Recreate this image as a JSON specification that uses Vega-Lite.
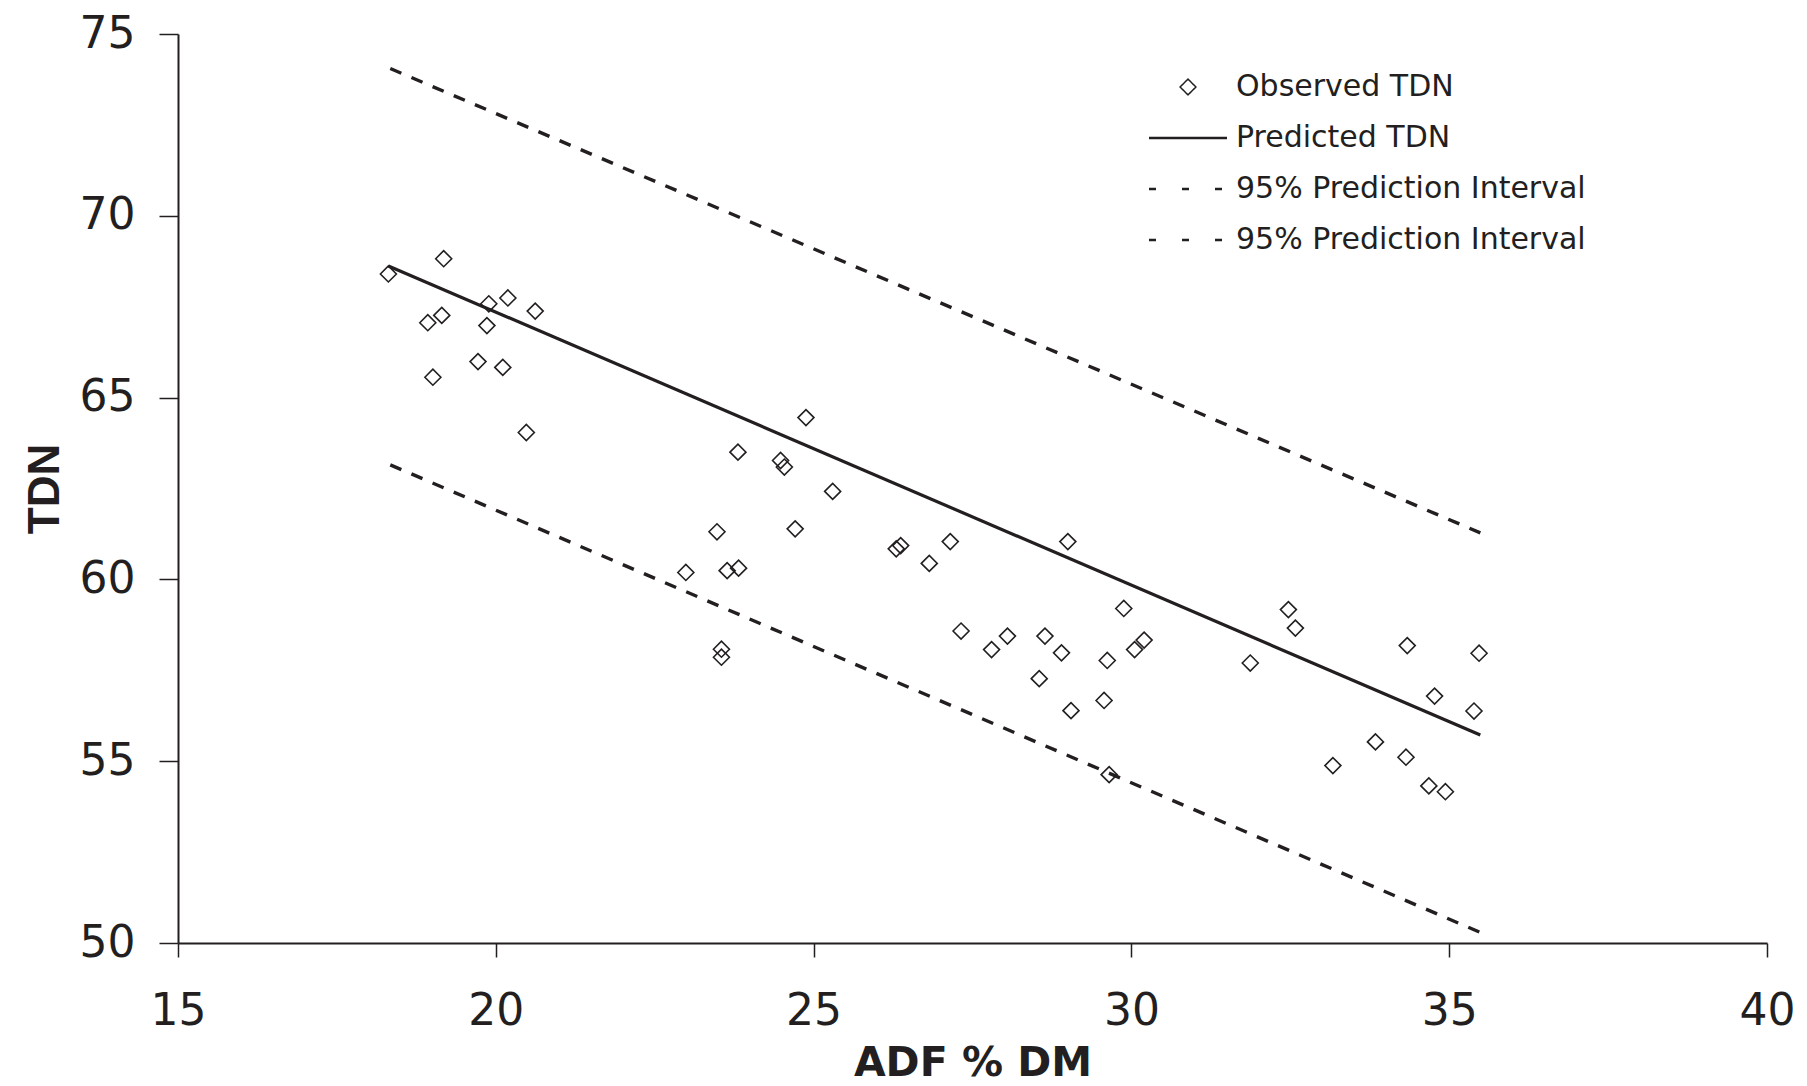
{
  "$schema": "https://vega.github.io/schema/vega-lite/v6.json",
  "width": 1589,
  "height": 909,
  "autosize": "none",
  "padding": {"left": 178, "top": 34, "right": 40, "bottom": 143},
  "background": "white",
  "config": {
    "view": {"stroke": null},
    "font": "DejaVu Sans",
    "axis": {"grid": false, "domainColor": "#231f20", "tickColor": "#231f20", "labelColor": "#231f20", "titleColor": "#231f20", "labelFont": "DejaVu Sans", "labelFlush": false}
  },
  "datasets": {
    "obs": [
      {"adf": 18.31, "tdn": 68.40}, {"adf": 19.18, "tdn": 68.82}, {"adf": 18.93, "tdn": 67.06},
      {"adf": 19.15, "tdn": 67.26}, {"adf": 19.01, "tdn": 65.56}, {"adf": 19.89, "tdn": 67.58},
      {"adf": 19.86, "tdn": 66.98}, {"adf": 20.19, "tdn": 67.74}, {"adf": 19.72, "tdn": 65.99},
      {"adf": 20.11, "tdn": 65.83}, {"adf": 20.62, "tdn": 67.38}, {"adf": 20.48, "tdn": 64.04},
      {"adf": 24.88, "tdn": 64.45}, {"adf": 23.81, "tdn": 63.50}, {"adf": 24.48, "tdn": 63.27},
      {"adf": 24.54, "tdn": 63.09}, {"adf": 25.30, "tdn": 62.42}, {"adf": 23.48, "tdn": 61.31},
      {"adf": 24.71, "tdn": 61.39}, {"adf": 22.99, "tdn": 60.19}, {"adf": 23.64, "tdn": 60.24},
      {"adf": 23.82, "tdn": 60.31}, {"adf": 23.55, "tdn": 58.08}, {"adf": 23.55, "tdn": 57.86},
      {"adf": 26.30, "tdn": 60.84}, {"adf": 26.37, "tdn": 60.93}, {"adf": 27.15, "tdn": 61.04},
      {"adf": 26.82, "tdn": 60.44}, {"adf": 29.00, "tdn": 61.04}, {"adf": 27.32, "tdn": 58.58},
      {"adf": 28.05, "tdn": 58.44}, {"adf": 27.80, "tdn": 58.07}, {"adf": 28.64, "tdn": 58.44},
      {"adf": 28.90, "tdn": 57.98}, {"adf": 29.88, "tdn": 59.20}, {"adf": 28.55, "tdn": 57.27},
      {"adf": 29.62, "tdn": 57.77}, {"adf": 30.05, "tdn": 58.07}, {"adf": 30.20, "tdn": 58.33},
      {"adf": 29.57, "tdn": 56.67}, {"adf": 29.05, "tdn": 56.39}, {"adf": 29.65, "tdn": 54.63},
      {"adf": 31.87, "tdn": 57.70}, {"adf": 32.47, "tdn": 59.17}, {"adf": 32.58, "tdn": 58.66},
      {"adf": 34.34, "tdn": 58.18}, {"adf": 35.47, "tdn": 57.97}, {"adf": 34.77, "tdn": 56.79},
      {"adf": 35.39, "tdn": 56.38}, {"adf": 33.84, "tdn": 55.53}, {"adf": 34.32, "tdn": 55.11},
      {"adf": 33.17, "tdn": 54.88}, {"adf": 34.68, "tdn": 54.32}, {"adf": 34.94, "tdn": 54.16}
    ],
    "pred": [
      {"series": "Predicted TDN", "adf": 18.31, "tdn": 68.62},
      {"series": "Predicted TDN", "adf": 35.49, "tdn": 55.72}
    ],
    "pi": [
      {"series": "95% Prediction Interval (upper)", "adf": 18.34, "tdn": 74.05},
      {"series": "95% Prediction Interval (upper)", "adf": 35.49, "tdn": 61.28},
      {"series": "95% Prediction Interval (lower)", "adf": 18.34, "tdn": 63.15},
      {"series": "95% Prediction Interval (lower)", "adf": 35.49, "tdn": 50.29}
    ]
  },
  "encoding": {
    "x": {"field": "adf", "type": "quantitative", "scale": {"domain": [15, 40], "nice": false, "zero": false},
      "axis": {"title": "ADF % DM", "values": [15, 20, 25, 30, 35, 40], "tickSize": 14, "tickWidth": 1.5, "domainWidth": 2, "labelFontSize": 44, "labelPadding": 32, "titleFont": "DejaVu Sans", "titleFontSize": 41, "titleFontWeight": "bold", "titlePadding": 10}},
    "y": {"field": "tdn", "type": "quantitative", "scale": {"domain": [50, 75], "nice": false, "zero": false},
      "axis": {"title": "TDN", "values": [50, 55, 60, 65, 70, 75], "tickSize": 19, "tickWidth": 1.5, "domainWidth": 2, "labelFontSize": 44, "labelPadding": 24, "titleFont": "Liberation Sans", "titleFontSize": 44, "titleFontWeight": "bold", "titlePadding": 12}}
  },
  "layer": [
    {
      "data": {"name": "pred"},
      "mark": {"type": "line", "strokeWidth": 3.2},
      "encoding": {
        "color": {
          "field": "series", "type": "nominal",
          "scale": {
            "domain": ["Observed TDN", "Predicted TDN", "95% Prediction Interval (upper)", "95% Prediction Interval (lower)"],
            "range": ["#231f20", "#231f20", "#231f20", "#231f20"]
          },
          "legend": {
            "title": null,
            "orient": "none",
            "legendX": 995,
            "legendY": 38,
            "labelFontSize": 30,
            "labelColor": "#231f20",
            "labelFont": "DejaVu Sans",
            "labelOffset": 33,
            "labelLimit": 0,
            "symbolSize": 6084,
            "symbolStrokeWidth": 2.5,
            "symbolType": "stroke",
            "rowPadding": 21,
            "labelExpr": "replace(replace(datum.label, ' (upper)', ''), ' (lower)', '')",
            "encoding": {
              "symbols": {
                "shape": {"value": {"expr": "datum.value === 'Observed TDN' ? 'diamond' : 'stroke'"}},
                "size": {"value": {"expr": "datum.value === 'Observed TDN' ? 250 : 6084"}},
                "strokeDash": {"value": {"expr": "indexof(datum.value, '95%') >= 0 ? [7, 26] : [1, 0]"}},
                "strokeWidth": {"value": {"expr": "datum.value === 'Observed TDN' ? 1.5 : 2.5"}},
                "stroke": {"value": "#231f20"},
                "fill": {"value": "transparent"}
              }
            }
          }
        }
      }
    },
    {
      "data": {"name": "pi"},
      "mark": {"type": "line", "strokeWidth": 3.4, "strokeDash": [12, 11]},
      "encoding": {
        "detail": {"field": "series"},
        "color": {"field": "series", "type": "nominal"}
      }
    },
    {
      "data": {"name": "obs"},
      "mark": {"type": "point", "shape": "diamond", "size": 256, "filled": false, "stroke": "#231f20", "strokeWidth": 1.6, "opacity": 1}
    }
  ]
}
